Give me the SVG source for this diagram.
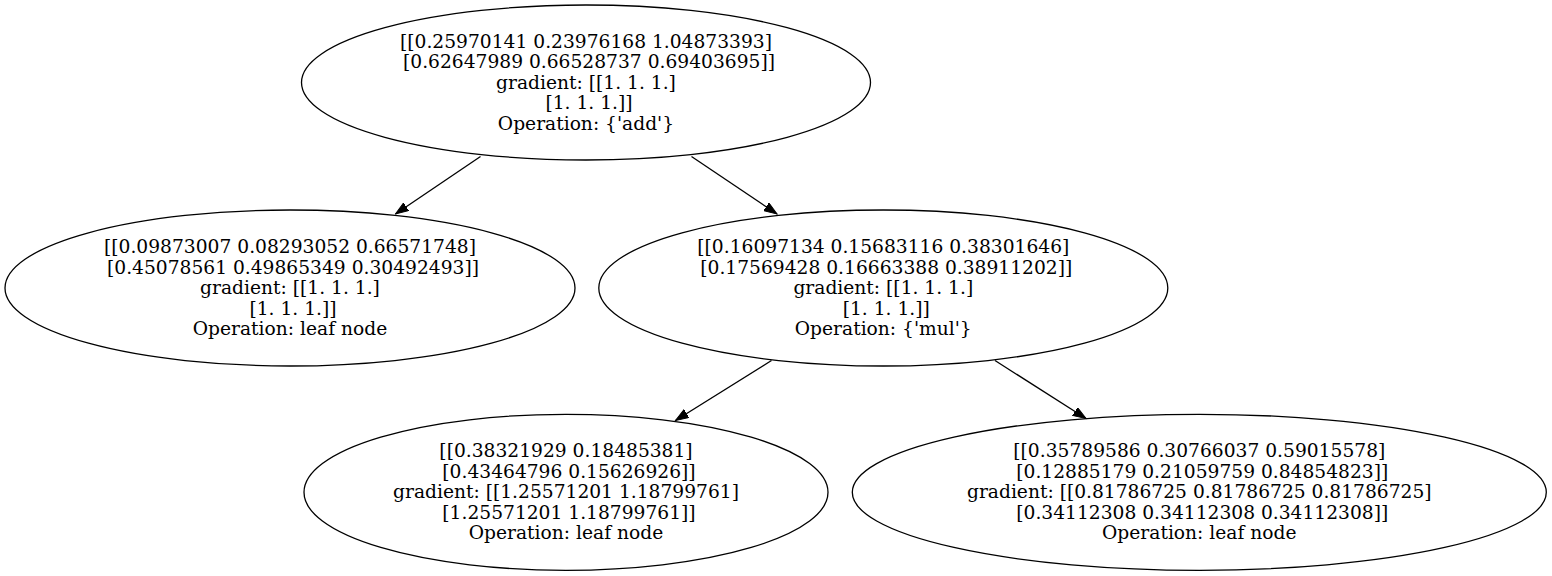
<svg xmlns="http://www.w3.org/2000/svg" width="1552" height="576" viewBox="0 0 1552 576">
  <style>
    .node ellipse { fill: none; stroke: #000; stroke-width: 1.3; }
    .node text { font-family: "DejaVu Serif", "Liberation Serif", serif; font-size: 18.67px; text-anchor: middle; fill: #000; white-space: pre; }
    .edge { stroke: #000; stroke-width: 1.3; fill: none; marker-end: url(#arrow); }
  </style>
  <defs>
    <marker id="arrow" markerUnits="userSpaceOnUse" markerWidth="14" markerHeight="10" refX="13" refY="4.7" orient="auto">
      <path d="M0,0 L13,4.7 L0,9.4 z" fill="#000" stroke="#000" stroke-width="1"/>
    </marker>
  </defs>
  <rect width="1552" height="576" fill="#fff"/>

  <!-- connectors -->
  <g id="edges">
    <line class="edge" x1="480.5" y1="156.5" x2="395.5" y2="214"/>
    <line class="edge" x1="691.5" y1="156.5" x2="777" y2="214"/>
    <line class="edge" x1="771.5" y1="360.5" x2="675.5" y2="420.5"/>
    <line class="edge" x1="995" y1="360.5" x2="1086" y2="418.5"/>
  </g>

  <!-- add node -->
  <g id="node-add" class="node">
    <ellipse cx="586" cy="82.5" rx="284.5" ry="77.5"/>
    <text x="586" y="47.5">[[0.25970141 0.23976168 1.04873393]</text>
    <text x="586" y="68" xml:space="preserve"> [0.62647989 0.66528737 0.69403695]]</text>
    <text x="586" y="88.5">gradient: [[1. 1. 1.]</text>
    <text x="586" y="109" xml:space="preserve"> [1. 1. 1.]]</text>
    <text x="586" y="129.5">Operation: {'add'}</text>
  </g>

  <!-- leaf node (left) -->
  <g id="node-leaf-a" class="node">
    <ellipse cx="290" cy="288" rx="285" ry="78"/>
    <text x="290" y="253">[[0.09873007 0.08293052 0.66571748]</text>
    <text x="290" y="273.5" xml:space="preserve"> [0.45078561 0.49865349 0.30492493]]</text>
    <text x="290" y="294">gradient: [[1. 1. 1.]</text>
    <text x="290" y="314.5" xml:space="preserve"> [1. 1. 1.]]</text>
    <text x="290" y="335">Operation: leaf node</text>
  </g>

  <!-- mul node -->
  <g id="node-mul" class="node">
    <ellipse cx="883.3" cy="288" rx="284.5" ry="78"/>
    <text x="883.3" y="253">[[0.16097134 0.15683116 0.38301646]</text>
    <text x="883.3" y="273.5" xml:space="preserve"> [0.17569428 0.16663388 0.38911202]]</text>
    <text x="883.3" y="294">gradient: [[1. 1. 1.]</text>
    <text x="883.3" y="314.5" xml:space="preserve"> [1. 1. 1.]]</text>
    <text x="883.3" y="335">Operation: {'mul'}</text>
  </g>

  <!-- leaf node (bottom left) -->
  <g id="node-leaf-b" class="node">
    <ellipse cx="566" cy="492.3" rx="262" ry="78"/>
    <text x="566" y="457.3">[[0.38321929 0.18485381]</text>
    <text x="566" y="477.8" xml:space="preserve"> [0.43464796 0.15626926]]</text>
    <text x="566" y="498.3">gradient: [[1.25571201 1.18799761]</text>
    <text x="566" y="518.8" xml:space="preserve"> [1.25571201 1.18799761]]</text>
    <text x="566" y="539.3">Operation: leaf node</text>
  </g>

  <!-- leaf node (bottom right) -->
  <g id="node-leaf-c" class="node">
    <ellipse cx="1199.3" cy="492.3" rx="347" ry="78"/>
    <text x="1199.3" y="457.3">[[0.35789586 0.30766037 0.59015578]</text>
    <text x="1199.3" y="477.8" xml:space="preserve"> [0.12885179 0.21059759 0.84854823]]</text>
    <text x="1199.3" y="498.3">gradient: [[0.81786725 0.81786725 0.81786725]</text>
    <text x="1199.3" y="518.8" xml:space="preserve"> [0.34112308 0.34112308 0.34112308]]</text>
    <text x="1199.3" y="539.3">Operation: leaf node</text>
  </g>
</svg>
